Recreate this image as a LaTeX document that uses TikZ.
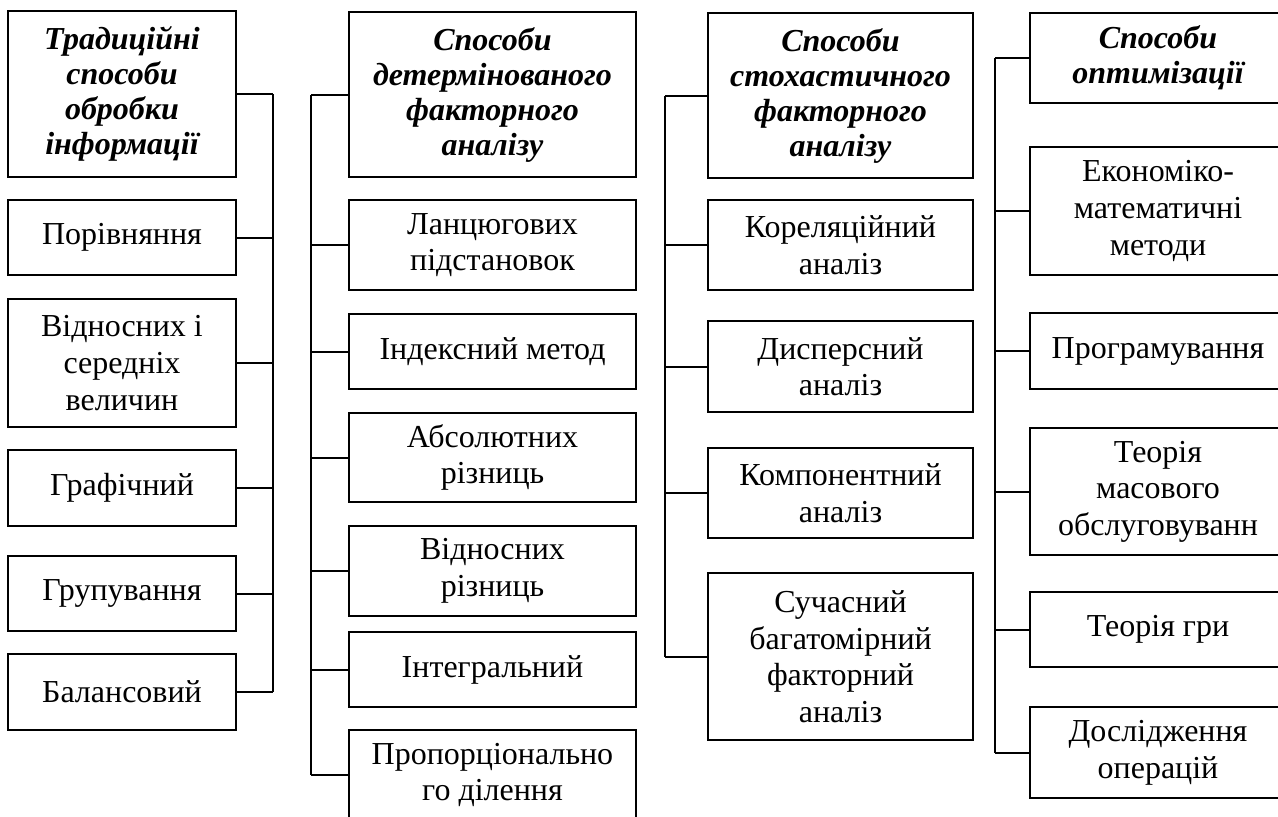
\documentclass[tikz,border=0pt]{standalone}
\usepackage{fontspec}
\setmainfont{Liberation Serif}
\begin{document}
\begin{tikzpicture}[x=0.5pt,y=-0.5pt,
    box/.style={draw,line width=1pt,align=center,inner sep=1pt,font=\fontsize{16}{18.3}\selectfont},
    head/.style={box,font=\fontsize{16}{17.5}\selectfont\bfseries\itshape},
    colA/.style={minimum width=114pt},
    colB/.style={minimum width=143.5pt},
    colC/.style={minimum width=132.5pt},
    colD/.style={minimum width=128pt},
    link/.style={line width=1pt}]
\useasboundingbox (0,0) rectangle (1278,816);
\node[head,colA,minimum height=83pt] (tA) at (122,94) {Традиційні\\способи\\обробки\\інформації};
\node[box,colA,minimum height=37.5pt] (a1) at (122,237.5) {Порівняння};
\node[box,colA,minimum height=64pt] (a2) at (122,363) {Відносних і\\середніх\\величин};
\node[box,colA,minimum height=38pt] (a3) at (122,488) {Графічний};
\node[box,colA,minimum height=37.5pt] (a4) at (122,593.5) {Групування};
\node[box,colA,minimum height=38pt] (a5) at (122,692) {Балансовий};
\node[head,colB,minimum height=82.5pt] (tB) at (492.5,94.5) {Способи\\детермінованого\\факторного\\аналізу};
\node[box,colB,minimum height=45pt] (b1) at (492.5,245) {Ланцюгових\\підстановок};
\node[box,colB,minimum height=37.5pt] (b2) at (492.5,351.5) {Індексний метод};
\node[box,colB,minimum height=44.5pt] (b3) at (492.5,457.5) {Абсолютних\\різниць};
\node[box,colB,minimum height=45pt] (b4) at (492.5,571) {Відносних\\різниць};
\node[box,colB,minimum height=37.5pt] (b5) at (492.5,669.5) {Інтегральний};
\node[box,colB,minimum height=45pt] (b6) at (492.5,775) {Пропорціонально\\го ділення};
\node[head,colC,minimum height=82.5pt] (tC) at (840.5,95.5) {Способи\\стохастичного\\факторного\\аналізу};
\node[box,colC,minimum height=45pt] (c1) at (840.5,245) {Кореляційний\\аналіз};
\node[box,colC,minimum height=45.5pt] (c2) at (840.5,366.5) {Дисперсний\\аналіз};
\node[box,colC,minimum height=45pt] (c3) at (840.5,493) {Компонентний\\аналіз};
\node[box,colC,minimum height=83.5pt] (c4) at (840.5,656.5) {Сучасний\\багатомірний\\факторний\\аналіз};
\node[head,colD,minimum height=45pt] (tD) at (1158,58) {Способи\\оптимізації};
\node[box,colD,minimum height=64pt] (d1) at (1158,211) {Економіко-\\математичні\\методи};
\node[box,colD,minimum height=38pt] (d2) at (1158,351) {Програмування};
\node[box,colD,minimum height=63.5pt] (d3) at (1158,491.5) {Теорія\\масового\\обслуговуванн};
\node[box,colD,minimum height=37.5pt] (d4) at (1158,629.5) {Теорія гри};
\node[box,colD,minimum height=45.5pt] (d5) at (1158,752.5) {Дослідження\\операцій};
\coordinate (busA) at (273,0);
\coordinate (busB) at (311,0);
\coordinate (busC) at (665,0);
\coordinate (busD) at (995,0);
\foreach \n in {tA,a1,a2,a3,a4,a5}
  \draw[link] (\n.east) -- (\n.east -| busA);
\draw[link] (tA.east -| busA) -- (a5.east -| busA);
\foreach \n in {tB,b1,b2,b3,b4,b5,b6}
  \draw[link] (\n.west) -- (\n.west -| busB);
\draw[link] (tB.west -| busB) -- (b6.west -| busB);
\foreach \n in {tC,c1,c2,c3,c4}
  \draw[link] (\n.west) -- (\n.west -| busC);
\draw[link] (tC.west -| busC) -- (c4.west -| busC);
\foreach \n in {tD,d1,d2,d3,d4,d5}
  \draw[link] (\n.west) -- (\n.west -| busD);
\draw[link] (tD.west -| busD) -- (d5.west -| busD);
\end{tikzpicture}
\end{document}
